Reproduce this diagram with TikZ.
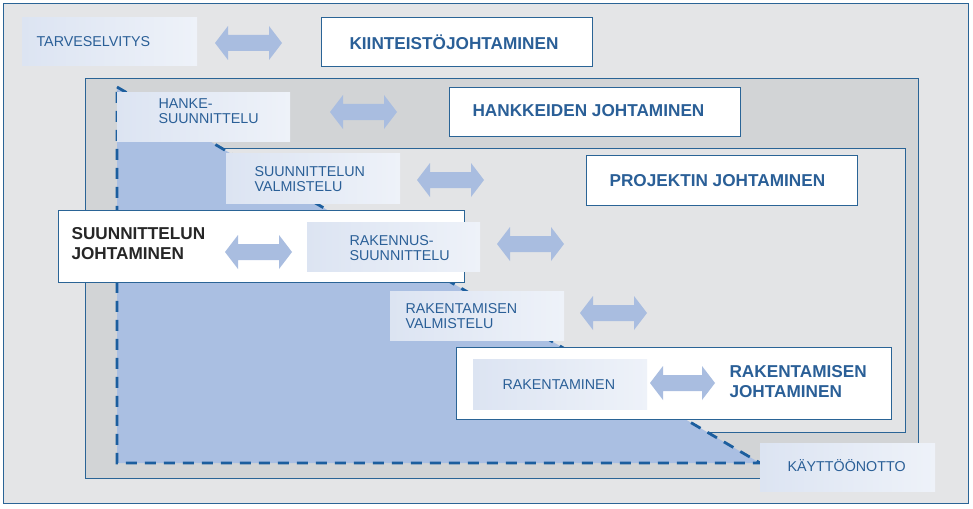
\documentclass[tikz,border=0pt]{standalone}
\usepackage{fontspec}
\setmainfont{Liberation Sans}
\begin{document}
\begin{tikzpicture}[x=1pt,y=-1pt,
  txt/.style={font=\fontsize{14.3}{15.5}\selectfont, text=tcol, align=left, anchor=west},
  big/.style={font=\bfseries\fontsize{17.2}{20}\selectfont, text=tcol, align=left, anchor=west},
  lbox/.style={left color=lb1, right color=lb2, draw=none},
  wbox/.style={fill=white, draw=bcol, line width=0.8pt},
  dbl/.style={fill=acol, draw=none}]
\definecolor{tcol}{HTML}{2A5F97}
\definecolor{bcol}{HTML}{2A6496}
\definecolor{dcol}{HTML}{1C5E9E}
\definecolor{lb1}{HTML}{DCE4F2}
\definecolor{lb2}{HTML}{EEF2F9}
\definecolor{acol}{HTML}{A9BDE0}
\definecolor{g1}{HTML}{E4E5E7}
\definecolor{g2}{HTML}{D2D4D6}
\definecolor{g3}{HTML}{E3E4E6}
\definecolor{pcol}{HTML}{AABFE2}
\newcommand{\dblarrow}[3]{% xleft, xright, y
  \fill[acol] (#1,#3) -- (#1+13,#3-17) -- (#1+13,#3-8) -- (#2-13,#3-8) -- (#2-13,#3-17) -- (#2,#3) -- (#2-13,#3+17) -- (#2-13,#3+8) -- (#1+13,#3+8) -- (#1+13,#3+17) -- cycle;}
\useasboundingbox (0,0) rectangle (973,508);
\fill[white] (0,0) rectangle (973,508);
\draw[fill=g1, draw=bcol, line width=0.6pt] (3,3) rectangle (968,503);
\draw[fill=g2, draw=bcol, line width=0.6pt] (85,78) rectangle (918,478);
\draw[fill=g3, draw=bcol, line width=0.6pt] (117,148) rectangle (905,432);
\fill[pcol] (117,87) -- (760,463) -- (117,463) -- cycle;
\draw[dcol, line width=2.8pt, dash pattern=on 11pt off 8pt] (117,87) -- (760,463) -- (117,463) -- cycle;
% top row
\node[lbox, minimum width=175, minimum height=48, anchor=north west] (tarve) at (22,17) {};
\node[txt] at (33,42) {TARVESELVITYS};
\dblarrow{215}{282}{43}
\node[wbox, minimum width=271, minimum height=49, anchor=north west] (kiin) at (321,17) {};
\node[big] at (346,42) {KIINTEISTÖJOHTAMINEN};
% hanke
\node[lbox, minimum width=173, minimum height=49, anchor=north west] (hanke) at (117,92) {};
\node[txt] at (155,111) {HANKE-\\SUUNNITTELU};
\dblarrow{330}{397}{112}
\node[wbox, minimum width=291, minimum height=49, anchor=north west] (hankk) at (449,87) {};
\node[big] at (469,111) {HANKKEIDEN JOHTAMINEN};
% suunnittelun valmistelu
\node[lbox, minimum width=174, minimum height=50, anchor=north west] (sv) at (226,153) {};
\node[txt] at (251,179) {SUUNNITTELUN\\VALMISTELU};
\dblarrow{417}{484}{180}
\node[wbox, minimum width=271, minimum height=50, anchor=north west] (proj) at (586,155) {};
\node[big] at (606,181) {PROJEKTIN JOHTAMINEN};
% suunnittelun johtaminen
\node[wbox, minimum width=406, minimum height=72, anchor=north west] (sj) at (58,210) {};
\node[big, text=black!85] at (68,244) {SUUNNITTELUN\\JOHTAMINEN};
\dblarrow{225}{292}{252}
\node[lbox, minimum width=173, minimum height=49, anchor=north west] (rs) at (307,222) {};
\node[txt] at (346,248) {RAKENNUS-\\SUUNNITTELU};
\dblarrow{497}{564}{244}
% rakentamisen valmistelu
\node[lbox, minimum width=174, minimum height=49, anchor=north west] (rv) at (390,291) {};
\node[txt] at (402,316) {RAKENTAMISEN\\VALMISTELU};
\dblarrow{580}{647}{313}
% rakentamisen johtaminen
\node[wbox, minimum width=435, minimum height=72, anchor=north west] (rj) at (456,347) {};
\node[lbox, minimum width=174, minimum height=50, anchor=north west] (rak) at (473,359) {};
\node[txt] at (499,385) {RAKENTAMINEN};
\dblarrow{650}{715}{383}
\node[big] at (726,382) {RAKENTAMISEN\\JOHTAMINEN};
% käyttöönotto
\node[lbox, minimum width=175, minimum height=48, anchor=north west] (kay) at (760,443) {};
\node[txt] at (784,466) {KÄYTTÖÖNOTTO};
\end{tikzpicture}
\end{document}
